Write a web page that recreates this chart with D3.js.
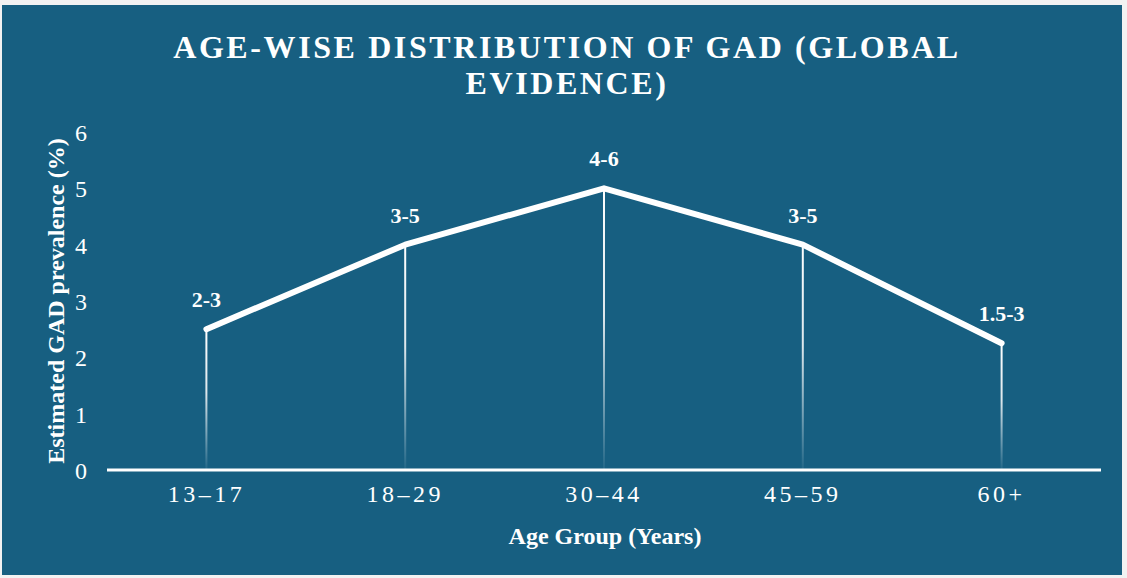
<!DOCTYPE html>
<html>
<head>
<meta charset="utf-8">
<script src="https://cdn.jsdelivr.net/npm/d3@7"></script>
<style>
  body { margin: 0; background: #f2f2f2; }
  svg { display: block; }
</style>
</head>
<body>
<svg id="chart"></svg>
<script>
const ageGroups = ["13–17", "18–29", "30–44", "45–59", "60+"];
const prevalence = [2.5, 4, 5, 4, 2.25];
const rangeLabels = ["2-3", "3-5", "4-6", "3-5", "1.5-3"];
const yTicks = [0, 1, 2, 3, 4, 5, 6];

const width = 1127;
const height = 578;
const bg = "#175f81";
const serif = "'Liberation Serif', 'Times New Roman', serif";

const svg = d3.select("#chart").attr("width", width).attr("height", height);

svg.append("rect")
  .attr("x", 2).attr("y", 5)
  .attr("width", 1120).attr("height", 570)
  .attr("fill", bg);

const margin = { left: 107, right: 26, top: 132, bottom: 108 };

const x = d3.scaleBand()
  .domain(ageGroups)
  .range([margin.left, width - margin.right])
  .padding(0);

const y = d3.scaleLinear()
  .domain([0, 6])
  .range([height - margin.bottom, margin.top]);

const data = ageGroups.map((g, i) => ({ group: g, value: prevalence[i], label: rangeLabels[i] }));

// gradient for drop lines
const defs = svg.append("defs");
const grad = defs.append("linearGradient")
  .attr("id", "dropGrad")
  .attr("x1", 0).attr("y1", 0).attr("x2", 0).attr("y2", 1);
grad.append("stop").attr("offset", "0%").attr("stop-color", "#fff").attr("stop-opacity", 1);
grad.append("stop").attr("offset", "45%").attr("stop-color", "#fff").attr("stop-opacity", 0.85);
grad.append("stop").attr("offset", "100%").attr("stop-color", "#fff").attr("stop-opacity", 0.05);

const cx = (d) => x(d.group) + x.bandwidth() / 2;

// title
const title = svg.append("text")
  .attr("text-anchor", "middle")
  .attr("fill", "#fff")
  .attr("font-family", serif)
  .attr("font-weight", "bold")
  .attr("font-size", 32)
  .attr("letter-spacing", 2.6);
title.append("tspan").attr("x", 567).attr("y", 58).text("AGE-WISE DISTRIBUTION OF GAD (GLOBAL");
title.append("tspan").attr("x", 567).attr("y", 94).text("EVIDENCE)");

// drop lines
svg.append("g")
  .selectAll("rect")
  .data(data)
  .enter()
  .append("rect")
  .attr("x", (d) => cx(d) - 1)
  .attr("y", (d) => y(d.value))
  .attr("width", 2)
  .attr("height", (d) => y(0) - y(d.value))
  .attr("fill", "url(#dropGrad)");

// baseline
svg.append("line")
  .attr("x1", margin.left).attr("x2", width - margin.right)
  .attr("y1", y(0)).attr("y2", y(0))
  .attr("stroke", "#fff")
  .attr("stroke-width", 3);

// line
const line = d3.line().x(cx).y((d) => y(d.value));
svg.append("path")
  .datum(data)
  .attr("d", line)
  .attr("fill", "none")
  .attr("stroke", "#fff")
  .attr("stroke-width", 6)
  .attr("stroke-linejoin", "round")
  .attr("stroke-linecap", "round");

// value labels
svg.append("g")
  .selectAll("text")
  .data(data)
  .enter()
  .append("text")
  .attr("x", cx)
  .attr("y", (d) => y(d.value) - 22)
  .attr("text-anchor", "middle")
  .attr("fill", "#fff")
  .attr("font-family", serif)
  .attr("font-weight", "bold")
  .attr("font-size", 22)
  .text((d) => d.label);

// y axis
const yAxis = svg.append("g")
  .attr("transform", `translate(${margin.left - 20},0)`)
  .call(d3.axisLeft(y).tickValues(yTicks).tickFormat(d3.format("d")).tickSize(0).tickPadding(0));
yAxis.select(".domain").remove();
yAxis.selectAll("text")
  .attr("fill", "#fff")
  .attr("font-family", serif)
  .attr("font-size", 24)
  .attr("dy", "0.35em");

// x axis
const xAxis = svg.append("g")
  .attr("transform", `translate(0,${y(0)})`)
  .call(d3.axisBottom(x).tickSize(0).tickPadding(15));
xAxis.select(".domain").remove();
xAxis.selectAll("text")
  .attr("fill", "#fff")
  .attr("font-family", serif)
  .attr("font-size", 24)
  .attr("letter-spacing", 3.5)
  .attr("dy", "0.71em");

// axis titles
svg.append("text")
  .attr("x", 605).attr("y", 544)
  .attr("text-anchor", "middle")
  .attr("fill", "#fff")
  .attr("font-family", serif)
  .attr("font-weight", "bold")
  .attr("font-size", 24)
  .text("Age Group (Years)");

svg.append("text")
  .attr("transform", "translate(64,301) rotate(-90)")
  .attr("text-anchor", "middle")
  .attr("fill", "#fff")
  .attr("font-family", serif)
  .attr("font-weight", "bold")
  .attr("font-size", 24)
  .text("Estimated GAD prevalence (%)");
</script>
</body>
</html>
